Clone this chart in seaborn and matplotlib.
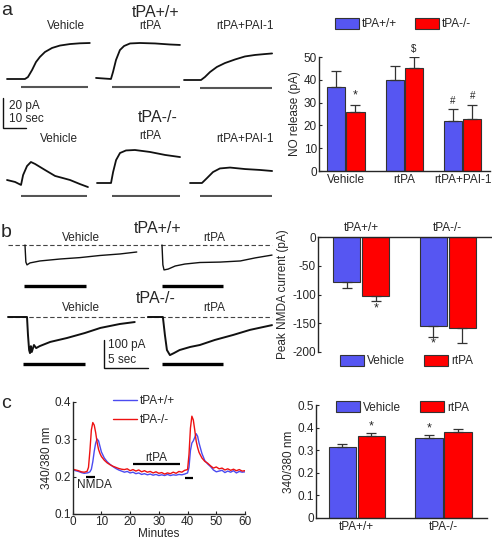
import pandas as pd
import matplotlib
matplotlib.use("Agg")
import matplotlib.pyplot as plt
from matplotlib.patches import Patch
import seaborn as sns

# ---------------- data ----------------
# panel a, NO release traces (time in s, current in pA, relative to trace start / baseline)
A_WT_VEH_T = [0, 7.8, 9.1, 10.9, 12.6, 14.3, 16.5, 19.6, 23, 27.4, 31.7, 36]
A_WT_VEH_I = [0, 0, 1.3, 6, 11.3, 14.7, 18, 20.7, 22.3, 23.3, 23.8, 24]
A_WT_RT_T = [0, 6.5, 7.4, 8.7, 10.4, 12.2, 14.8, 19.1, 25.7, 32.2, 36.5]
A_WT_RT_I = [0.7, 0, 4.7, 12.7, 19.3, 22, 23.7, 24, 23.7, 23, 22.7]
A_WT_PAI_T = [0, 7.4, 9.1, 11.3, 14.3, 17.8, 22.2, 26.5, 30.9, 35.2, 38.3]
A_WT_PAI_I = [0, 0, 2, 5.3, 8.7, 11.3, 13.7, 15.7, 16.7, 17.3, 17.7]
A_KO_VEH_T = [0, 3.5, 6.1, 7, 8.7, 10.4, 12.2, 16.5, 20.9, 24.3, 27.4, 31.7, 35.2]
A_KO_VEH_I = [2, 0.7, -1.3, 5.3, 11.3, 14, 12.7, 8.7, 4.7, 3.3, 2, -0.7, -2.7]
A_KO_RT_T = [0, 6.1, 7, 8.3, 10, 12.6, 16.5, 23, 29.6, 36.1]
A_KO_RT_I = [0, 0, 7.3, 15.3, 20, 21.7, 22, 20.7, 18.7, 17.3]
A_KO_PAI_T = [0, 5.2, 7.4, 10, 13, 17.4, 23.9, 30.4, 35.7]
A_KO_PAI_I = [0, 0, 3.3, 7.3, 9.7, 10.3, 9.3, 8.7, 8]
A_STIM_WT = [(6.1, 35.2), (7, 36.5), (7, 38.3)]
A_STIM_KO = [(6.1, 34.8), (6.5, 36.1), (4.3, 35.7)]

A_COND = ["Vehicle", "rtPA", "rtPA+PAI-1"]
A_WT_MEAN = [37, 40, 22]
A_WT_SEM = [7, 6, 5]
A_KO_MEAN = [26, 45, 23]
A_KO_SEM = [3, 5, 6]
A_WT_MARK = ["", "", "#"]
A_KO_MARK = ["*", "$", "#"]

# panel b, NMDA currents (s, pA)
B_WT_VEH_T = [0, 0.1, 0.23, 0.57, 1.7, 4, 6.25, 8.5, 10.8, 12.7]
B_WT_VEH_I = [0, -61, -71, -64, -57, -50, -45, -37.5, -32, -25]
B_WT_RT_T = [0, 0.1, 0.23, 0.7, 1.5, 2.6, 4.3, 6.6, 8.9, 10.6, 12.5]
B_WT_RT_I = [0, -71, -89, -86, -75, -68, -62.5, -61, -57, -46, -36]
B_KO_VEH_T = [0, 2.16, 2.27, 2.4, 2.5, 2.6, 2.7, 2.95, 3.2, 3.6, 4.8, 6.7, 8.75, 10.5, 12.7, 14.4]
B_KO_VEH_I = [0, 0, -64, -118, -129, -104, -125, -100, -111, -104, -89, -75, -57, -39, -25, -18]
B_KO_RT_T = [0, 1.7, 1.93, 2.16, 2.5, 2.95, 3.6, 4.8, 5.9, 7.6, 9.7, 11.6, 14.1]
B_KO_RT_I = [0, 0, -64, -118, -136, -129, -118, -107, -100, -82, -64, -46, -29]
B_STIM_WT = [(-0.1, 6.9), (0, 6.9)]
B_STIM_KO = [(1.7, 8.75), (1.6, 8.5)]

B_GENO = ["tPA+/+", "tPA-/-"]
B_VEH_MEAN = [-79, -155]
B_VEH_SEM = [9, 19]
B_RT_MEAN = [-102, -158]
B_RT_SEM = [10, 27]
B_VEH_MARK = ["", "*"]
B_RT_MARK = ["*", ""]

# panel c, calcium ratio time course (minutes, 340/380)
C_T = [0, 1, 2, 3, 4, 5, 5.5, 6, 6.5, 7, 7.5, 8, 8.5, 9, 9.5,
       10, 11, 12, 13, 14, 15, 16, 17, 18, 19, 20, 21, 22, 23, 24, 25,
       26, 27, 28, 29, 30, 31, 32, 33, 34, 35, 36, 37, 38, 39, 40,
       40.5, 41, 41.5, 42, 42.5, 43, 43.5,
       44, 45, 46, 47, 48, 49, 50, 51, 52, 53, 54, 55, 56, 57, 58, 59, 60]
C_KO = [0.220, 0.218, 0.216, 0.213, 0.212, 0.214, 0.225, 0.270, 0.325, 0.345, 0.338, 0.318, 0.292, 0.273, 0.262,
        0.254, 0.244, 0.237, 0.232, 0.228, 0.225, 0.222, 0.220, 0.219, 0.221, 0.216, 0.219, 0.215, 0.218, 0.213, 0.216,
        0.212, 0.214, 0.210, 0.213, 0.209, 0.211, 0.207, 0.210, 0.208, 0.212, 0.209, 0.214, 0.212, 0.217, 0.219,
        0.260, 0.330, 0.362, 0.352, 0.325, 0.295, 0.278,
        0.265, 0.250, 0.241, 0.236, 0.229, 0.223, 0.226, 0.221, 0.223, 0.218, 0.221, 0.217, 0.220, 0.216, 0.219, 0.215, 0.216]
C_WT = [0.218, 0.216, 0.214, 0.211, 0.209, 0.210, 0.211, 0.213, 0.220, 0.240, 0.268, 0.290, 0.301, 0.296, 0.281,
        0.266, 0.250, 0.240, 0.233, 0.227, 0.222, 0.218, 0.215, 0.212, 0.214, 0.210, 0.212, 0.208, 0.210, 0.206, 0.208,
        0.205, 0.207, 0.204, 0.206, 0.203, 0.205, 0.203, 0.206, 0.203, 0.205, 0.204, 0.206, 0.205, 0.207, 0.210,
        0.225, 0.270, 0.290, 0.296, 0.305, 0.315, 0.308,
        0.290, 0.262, 0.243, 0.234, 0.227, 0.218, 0.213, 0.215, 0.217, 0.211, 0.215, 0.212, 0.216, 0.210, 0.214, 0.212, 0.213]
C_NMDA = [(4.6, 7.9), (39.1, 42)]
C_RTPA = (21, 37.4)

C_GENO = ["tPA+/+", "tPA-/-"]
C_VEH_MEAN = [0.315, 0.355]
C_VEH_SEM = [0.012, 0.012]
C_RT_MEAN = [0.365, 0.38]
C_RT_SEM = [0.010, 0.015]
C_VEH_MARK = ["", "*"]
C_RT_MARK = ["*", ""]

# ---------------- style ----------------
W, H = 492, 540
BLUE = "#5656f2"
RED = "#ff0000"
EDGE = "#333333"
FS = 8.5

sns.set_style("ticks")
plt.rcParams["font.family"] = ["Liberation Sans", "DejaVu Sans"]
plt.rcParams["axes.unicode_minus"] = False
plt.rcParams["lines.scale_dashes"] = False
plt.rcParams["xtick.direction"] = "in"
plt.rcParams["ytick.direction"] = "in"
plt.rcParams["xtick.major.size"] = 2.5
plt.rcParams["ytick.major.size"] = 2.5
plt.rcParams["xtick.major.pad"] = 1.5
plt.rcParams["ytick.major.pad"] = 1.5
plt.rcParams["axes.linewidth"] = 1.0
plt.rcParams["font.size"] = FS

fig = plt.figure(figsize=(W / 100, H / 100), dpi=100)


def px_axes(left, top, right, bottom):
    return fig.add_axes([left / W, 1 - bottom / H, (right - left) / W, (bottom - top) / H])


def ftxt(x, y, s, size=FS, ha="center"):
    fig.text(x / W, 1 - y / H, s, fontsize=size, ha=ha, va="baseline")


def trace_axes(x0, y0, xs, ys, left=2, right=92, up=45, down=14):
    ax = px_axes(x0 - left, y0 - up, x0 + right, y0 + down)
    ax.set_xlim(-left / xs, right / xs)
    ax.set_ylim(-down / ys, up / ys)
    ax.axis("off")
    return ax


def bar_panel(ax, cats, names, means, sems, marks, width, mark_pad):
    df = pd.DataFrame({
        "cat": cats * 2,
        "grp": [names[0]] * len(cats) + [names[1]] * len(cats),
        "val": means[0] + means[1],
    })
    sns.barplot(data=df, x="cat", y="val", hue="grp", palette=[BLUE, RED], width=width,
                gap=0.06, edgecolor=EDGE, linewidth=0.8, saturation=1, errorbar=None,
                legend=False, ax=ax)
    for p, v, s, m in zip(ax.patches, means[0] + means[1], sems[0] + sems[1], marks[0] + marks[1]):
        x = p.get_x() + p.get_width() / 2
        yerr = [[0], [s]] if v > 0 else [[s], [0]]
        ax.errorbar(x, v, yerr=yerr, fmt="none", ecolor=EDGE, elinewidth=0.9,
                    capsize=3.6, capthick=0.9)
        if m:
            sign = 1 if v > 0 else -1
            ax.text(x, v + sign * (s + mark_pad), m, ha="center",
                    va="bottom" if v > 0 else "top", fontsize=9 if m == "*" else 7)
    ax.set_xlabel("")
    ax.set_ylabel("")


def bar_legend(ax, labels, anchor, colspace):
    ax.legend(handles=[Patch(facecolor=BLUE, edgecolor=EDGE, lw=0.8),
                       Patch(facecolor=RED, edgecolor=EDGE, lw=0.8)],
              labels=labels, loc="center left", bbox_to_anchor=anchor, ncol=2,
              frameon=False, borderpad=0, borderaxespad=0, handlelength=2.0, handleheight=1.05,
              handletextpad=0.3, columnspacing=colspace, fontsize=FS)


# ---------------- panel a ----------------
ftxt(1, 15, "a", size=14, ha="left")
ftxt(156, 17, "tPA+/+", size=11.5)
ftxt(66, 29, "Vehicle")
ftxt(150, 29, "rtPA")
ftxt(245, 29, "rtPA+PAI-1")
ftxt(158, 122, "tPA-/-", size=11.5)
ftxt(59, 142, "Vehicle")
ftxt(150, 139, "rtPA")
ftxt(245, 142, "rtPA+PAI-1")

SA, PA = 2.3, 1.5
rows_a = [
    [(7, 79, A_WT_VEH_T, A_WT_VEH_I), (96, 79, A_WT_RT_T, A_WT_RT_I), (184, 80, A_WT_PAI_T, A_WT_PAI_I)],
    [(7, 183, A_KO_VEH_T, A_KO_VEH_I), (97, 183, A_KO_RT_T, A_KO_RT_I), (190, 183, A_KO_PAI_T, A_KO_PAI_I)],
]
for row, stims, bar_px in zip(rows_a, [A_STIM_WT, A_STIM_KO], [8, 13]):
    for (x0, y0, t, i), (s0, s1) in zip(row, stims):
        ax = trace_axes(x0, y0, SA, PA)
        sns.lineplot(x=t, y=i, color="#111111", lw=1.3, ax=ax, sort=False)
        ax.hlines(-bar_px / PA, s0, s1, color="#555555", lw=1.5)

# scale bar, 10 sec / 20 pA
ax = trace_axes(3.3, 128, SA, PA, left=1, right=30, up=35, down=3)
ax.plot([0, 0, 10], [20, 0, 0], color="#111111", lw=1.0, solid_joinstyle="miter")
ftxt(9, 109, "20 pA", ha="left")
ftxt(9, 122, "10 sec", ha="left")

ax = px_axes(319, 57, 490, 171)
bar_panel(ax, A_COND, ["tPA+/+", "tPA-/-"], [A_WT_MEAN, A_KO_MEAN], [A_WT_SEM, A_KO_SEM],
          [A_WT_MARK, A_KO_MARK], width=0.66, mark_pad=1.5)
ax.set_xlim(-0.46, 2.47)
ax.set_ylim(0, 50)
ax.set_yticks([0, 10, 20, 30, 40, 50])
ax.tick_params(axis="x", length=0, pad=2, labelsize=FS)
ax.tick_params(axis="y", labelsize=FS)
ax.set_ylabel("NO release (pA)", fontsize=FS, labelpad=2)
sns.despine(ax=ax)
bar_legend(ax, ["tPA+/+", "tPA-/-"], (0.094, 1.29), 1.5)

# ---------------- panel b ----------------
ftxt(1, 237, "b", size=14, ha="left")
ftxt(158, 233, "tPA+/+", size=11.5)
ftxt(81, 241, "Vehicle")
ftxt(214, 241, "rtPA")
ftxt(156, 303, "tPA-/-", size=11.5)
ftxt(81, 311, "Vehicle")
ftxt(214, 311, "rtPA")

SB, PB = 8.8, 0.28
rows_b = [
    (245, [(1.93, B_WT_VEH_T, B_WT_VEH_I), (17.5, B_WT_RT_T, B_WT_RT_I)], B_STIM_WT, 41, 1.0),
    (317, [(0.0, B_KO_VEH_T, B_KO_VEH_I), (15.9, B_KO_RT_T, B_KO_RT_I)], B_STIM_KO, 47, 1.4),
]
for y0, traces, stims, bar_px, lw in rows_b:
    ax = trace_axes(8, y0, SB, PB, left=3, right=268, up=20, down=55)
    ax.hlines(0, 0, 30, color="#444444", lw=0.8, linestyles=(0, (3.2, 1.8)))
    for (off, t, i), (s0, s1) in zip(traces, stims):
        sns.lineplot(x=[off + v for v in t], y=i, color="#111111", lw=lw, ax=ax, sort=False)
        ax.hlines(-bar_px / PB, off + s0, off + s1, color="#000000", lw=2.4)

# scale bar, 5 sec / 100 pA
ax = trace_axes(104, 368, SB, PB, left=1, right=50, up=32, down=3)
ax.plot([0, 0, 5], [100, 0, 0], color="#111111", lw=1.0, solid_joinstyle="miter")
ftxt(108, 348, "100 pA", ha="left")
ftxt(108, 363, "5 sec", ha="left")

ax = px_axes(318, 237, 491, 352)
bar_panel(ax, B_GENO, ["Vehicle", "rtPA"], [B_VEH_MEAN, B_RT_MEAN], [B_VEH_SEM, B_RT_SEM],
          [B_VEH_MARK, B_RT_MARK], width=0.67, mark_pad=1)
ax.set_xlim(-0.5, 1.5)
ax.set_ylim(-200, 0)
ax.set_yticks([0, -50, -100, -150, -200])
ax.xaxis.tick_top()
ax.tick_params(axis="x", length=0, pad=2, labelsize=FS)
ax.tick_params(axis="y", labelsize=FS)
ax.set_ylabel("Peak NMDA current (pA)", fontsize=FS, labelpad=2)
ax.spines["right"].set_visible(False)
ax.spines["bottom"].set_visible(False)
bar_legend(ax, ["Vehicle", "rtPA"], (0.127, -0.08), 1.6)

# ---------------- panel c ----------------
ftxt(1, 408, "c", size=14, ha="left")

ax = px_axes(72.7, 402, 245, 514)
df_c = pd.DataFrame({
    "Minutes": C_T * 2,
    "ratio": C_WT + C_KO,
    "geno": ["tPA+/+"] * len(C_T) + ["tPA-/-"] * len(C_T),
})
sns.lineplot(data=df_c, x="Minutes", y="ratio", hue="geno", palette=["#4b4bf0", "#ee1111"],
             lw=1.0, ax=ax, estimator=None)
ax.set_xlim(0, 60)
ax.set_ylim(0.1, 0.4)
ax.set_xticks(range(0, 61, 10))
ax.set_yticks([0.1, 0.2, 0.3, 0.4])
ax.tick_params(labelsize=FS)
ax.set_xlabel("Minutes", fontsize=FS, labelpad=0)
ax.set_ylabel("340/380 nm", fontsize=FS, labelpad=1)
sns.despine(ax=ax)
for s0, s1 in C_NMDA:
    ax.hlines(0.2 if s0 < 20 else 0.196, s0, s1, color="#000000", lw=1.6)
ax.hlines(0.234, C_RTPA[0], C_RTPA[1], color="#000000", lw=1.6)
ax.text(sum(C_RTPA) / 2, 0.243, "rtPA", ha="center", va="baseline", fontsize=FS)
ax.text(C_NMDA[0][0] + 3, 0.17, "NMDA", ha="center", va="baseline", fontsize=FS)
ax.legend(loc="upper left", bbox_to_anchor=(0.234, 1.065), frameon=False, borderpad=0,
          borderaxespad=0, handlelength=2.0, handletextpad=0.3, labelspacing=0.6,
          fontsize=FS, title=None)

ax = px_axes(316, 405, 487, 518)
bar_panel(ax, C_GENO, ["Vehicle", "rtPA"], [C_VEH_MEAN, C_RT_MEAN], [C_VEH_SEM, C_RT_SEM],
          [C_VEH_MARK, C_RT_MARK], width=0.67, mark_pad=0.002)
ax.set_xlim(-0.47, 1.5)
ax.set_ylim(0, 0.5)
ax.set_yticks([0, 0.1, 0.2, 0.3, 0.4, 0.5])
ax.set_yticklabels(["0", "0.1", "0.2", "0.3", "0.4", "0.5"])
ax.tick_params(axis="x", length=0, pad=2, labelsize=FS)
ax.tick_params(axis="y", labelsize=FS)
ax.set_ylabel("340/380 nm", fontsize=FS, labelpad=2)
sns.despine(ax=ax)
bar_legend(ax, ["Vehicle", "rtPA"], (0.117, 0.98), 1.6)

fig.savefig("out.png", dpi=100)
